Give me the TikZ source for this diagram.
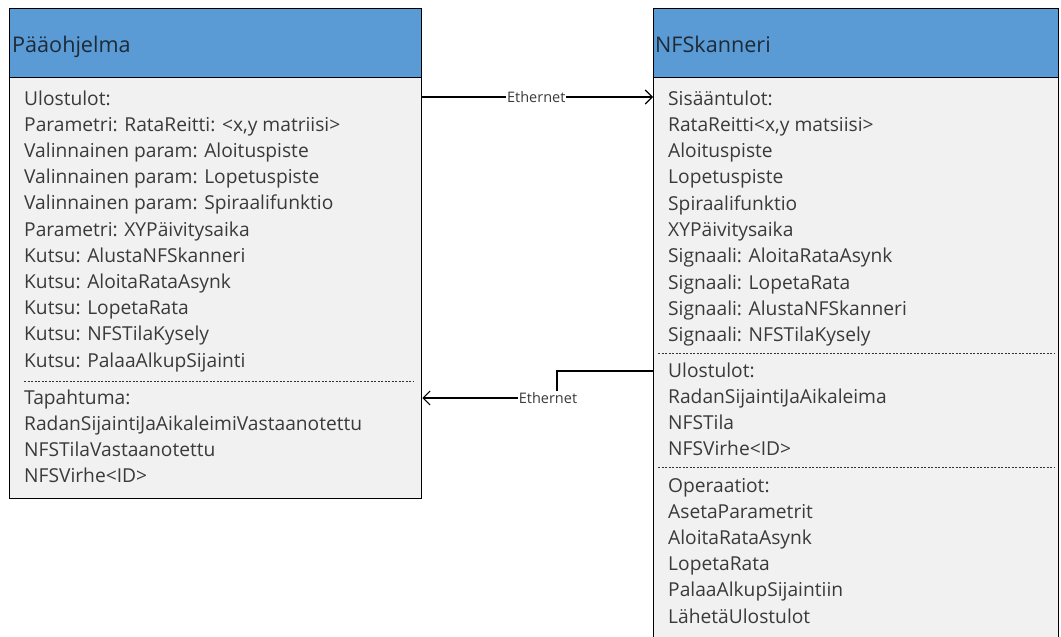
\documentclass[tikz,border=0pt]{standalone}
\usepackage{fontspec}
\setmainfont{Open Sans}
\usetikzlibrary{arrows.meta}
\definecolor{hdr}{HTML}{5B9BD5}
\definecolor{bodyc}{HTML}{F1F1F1}
\definecolor{txt}{HTML}{3A3A3A}
\definecolor{hdrtxt}{HTML}{1E2A36}
\tikzset{
  boxpart/.style={draw=black, line width=1.3pt, anchor=north west, inner sep=0pt},
  headtext/.style={anchor=base west, inner sep=0pt, text=hdrtxt, font=\fontsize{21.6}{26}\selectfont},
  item/.style={anchor=base west, inner sep=0pt, text=txt, font=\fontsize{19.2}{23}\selectfont},
  sep/.style={dashed, dash pattern=on 2pt off 1.5pt, line width=0.8pt, draw=black!80},
  conn/.style={draw=black, line width=1.1pt, -{Straight Barb[length=7pt,width=14pt,line width=1.1pt]}},
  lbl/.style={fill=white, inner sep=1pt, text=txt, font=\fontsize{14.5}{17}\selectfont}
}
\begin{document}
\begin{tikzpicture}[x=1pt,y=-1pt]
\useasboundingbox (0,0) rectangle (1061,637);
\clip (0,0) rectangle (1061,637);
\fill[white] (0,0) rectangle (1061,637);

% left class
\node[boxpart, fill=hdr, minimum width=412pt, minimum height=69pt] (Lhead) at (9,8) {};
\node[boxpart, fill=bodyc, minimum width=412pt, minimum height=421pt] (Lbody) at (9,77) {};
\node[headtext] (Ltitle) at (12,52) {Pääohjelma};

\foreach \t [count=\i] in {Ulostulot:,{Parametri: RataReitti: <x,y matriisi>},Valinnainen param: Aloituspiste,Valinnainen param: Lopetuspiste,Valinnainen param: Spiraalifunktio,Parametri: XYPäivitysaika,Kutsu: AlustaNFSkanneri,Kutsu: AloitaRataAsynk,Kutsu: LopetaRata,Kutsu: NFSTilaKysely,Kutsu: PalaaAlkupSijainti}
  \node[item] (L\i) at (24,{105+26.2*(\i-1)}) {\t};
\draw[sep] (24,381) -- (413,381);
\foreach \t [count=\i] in {Tapahtuma:,RadanSijaintiJaAikaleimiVastaanotettu,NFSTilaVastaanotettu,NFSVirhe<ID>}
  \node[item] (E\i) at (24,{404+26.2*(\i-1)}) {\t};

% right class
\node[boxpart, fill=hdr, minimum width=405pt, minimum height=69pt] (Rhead) at (653,8) {};
\node[boxpart, fill=bodyc, minimum width=405pt, minimum height=600pt] (Rbody) at (653,77) {};
\node[headtext] (Rtitle) at (655,52) {NFSkanneri};

\foreach \t [count=\i] in {Sisääntulot:,{RataReitti<x,y matsiisi>},Aloituspiste,Lopetuspiste,Spiraalifunktio,XYPäivitysaika,Signaali: AloitaRataAsynk,Signaali: LopetaRata,Signaali: AlustaNFSkanneri,Signaali: NFSTilaKysely}
  \node[item] (R\i) at (668,{105+26.3*(\i-1)}) {\t};
\draw[sep] (658,353) -- (1054,353);
\foreach \t [count=\i] in {Ulostulot:,RadanSijaintiJaAikaleima,NFSTila,NFSVirhe<ID>}
  \node[item] (O\i) at (668,{377+26.2*(\i-1)}) {\t};
\draw[sep] (658,467) -- (1054,467);
\foreach \t [count=\i] in {Operaatiot:,AsetaParametrit,AloitaRataAsynk,LopetaRata,PalaaAlkupSijaintiin,LähetäUlostulot}
  \node[item] (P\i) at (668,{492+26.2*(\i-1)}) {\t};

% connectors
\coordinate (a1) at (Lbody.east |- 0,97);
\coordinate (a2) at (Rbody.west |- 0,97);
\draw[conn] (a1) -- node[lbl, pos=0.494] (e1) {Ethernet} (a2);
\coordinate (b1) at (Rbody.west |- 0,371);
\coordinate (b2) at (Lbody.east |- 0,398);
\draw[conn] (b1) -- (557,371) |- (b2);
\node[lbl] (e2) at (548,398) {Ethernet};
\end{tikzpicture}
\end{document}
